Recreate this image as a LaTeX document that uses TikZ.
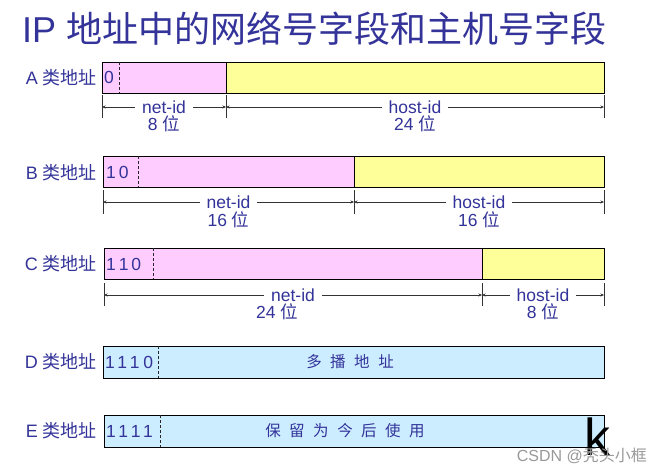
\documentclass[tikz,border=0pt]{standalone}
\usepackage{fontspec}
\setmainfont{Liberation Sans}
\newfontfamily\cjk{Noto Sans CJK SC}
\newfontfamily\bitfont[LetterSpace=22]{Liberation Sans}
\usetikzlibrary{arrows.meta}
\definecolor{txt}{RGB}{51,51,153}
\definecolor{pinkf}{RGB}{255,204,255}
\definecolor{yellowf}{RGB}{255,255,153}
\definecolor{bluef}{RGB}{204,236,255}
\newcommand\cgap{\hskip 8.5pt}
\tikzset{
  rowlbl/.style={text=txt, inner sep=0pt, anchor=east, font=\fontsize{18}{18}\selectfont},
  field/.style={draw=black, line width=1.1pt, anchor=north west, inner sep=0pt, minimum height=31pt},
  sep/.style={draw=black!85, dash pattern=on 3pt off 2pt, line width=1pt},
  tick/.style={draw=black!80, line width=1pt},
  dimarrow/.style={draw=black!80, line width=0.9pt, {Stealth[length=3.5pt,width=3pt]}-{Stealth[length=3.5pt,width=3pt]}},
  idlbl/.style={text=txt, fill=white, inner xsep=7pt, inner ysep=1pt, font=\fontsize{17.5}{17.5}\selectfont},
  bitslbl/.style={text=txt, inner sep=0pt, font=\fontsize{17.5}{17.5}\selectfont},
  bits/.style={text=txt, inner sep=0pt, anchor=west, font=\bitfont\fontsize{17.5}{17.5}\selectfont},
  wide/.style={text=txt, inner sep=0pt, font=\cjk\fontsize{15.5}{15.5}\selectfont}
}
\begin{document}
\begin{tikzpicture}[x=1pt,y=-1pt]
\path[use as bounding box, fill=white] (0,0) rectangle (661,475);

% title
\node[anchor=west, text=txt, inner sep=0pt, font=\fontsize{36}{36}\selectfont] (title) at (22,29) {IP {\cjk 地址中的网络号字段和主机号字段}};

% ---------- A ----------
\node[rowlbl] (Albl) at (97,77.5) {A {\cjk 类地址}};
\node[field, fill=pinkf, minimum width=124pt] (Anet) at (102,62) {};
\node[field, fill=yellowf, minimum width=378pt] (Ahost) at (226,62) {};
\node[bits] (Abits) at (104,77.5) {0};
\coordinate (Ad1) at (119,62); \coordinate (Ad2) at (119,93);
\draw[sep] (Ad1) -- (Ad2);
\coordinate (A1t) at (102,95);  \coordinate (A1b) at (102,118); \coordinate (A1m) at (102,107);
\coordinate (A2t) at (226,95);  \coordinate (A2b) at (226,118); \coordinate (A2m) at (226,107);
\coordinate (A3t) at (604,95);  \coordinate (A3b) at (604,118); \coordinate (A3m) at (604,107);
\draw[tick] (A1t) -- (A1b); \draw[tick] (A2t) -- (A2b); \draw[tick] (A3t) -- (A3b);
\draw[dimarrow] (A1m) -- node[idlbl] (Anetid) {net-id} (A2m);
\draw[dimarrow] (A2m) -- node[idlbl] (Ahostid) {host-id} (A3m);
\node[bitslbl] (Anetn) at (164,124) {8 {\cjk 位}};
\node[bitslbl] (Ahostn) at (415,124) {24 {\cjk 位}};

% ---------- B ----------
\node[rowlbl] (Blbl) at (97,172.5) {B {\cjk 类地址}};
\node[field, fill=pinkf, minimum width=251pt] (Bnet) at (103,156) {};
\node[field, fill=yellowf, minimum width=250pt] (Bhost) at (354,156) {};
\node[bits] (Bbits) at (106,172.5) {1\,0};
\coordinate (Bd1) at (138,156); \coordinate (Bd2) at (138,187);
\draw[sep] (Bd1) -- (Bd2);
\coordinate (B1t) at (103,190);  \coordinate (B1b) at (103,214); \coordinate (B1m) at (103,202);
\coordinate (B2t) at (354,190);  \coordinate (B2b) at (354,214); \coordinate (B2m) at (354,202);
\coordinate (B3t) at (604,190);  \coordinate (B3b) at (604,214); \coordinate (B3m) at (604,202);
\draw[tick] (B1t) -- (B1b); \draw[tick] (B2t) -- (B2b); \draw[tick] (B3t) -- (B3b);
\draw[dimarrow] (B1m) -- node[idlbl] (Bnetid) {net-id} (B2m);
\draw[dimarrow] (B2m) -- node[idlbl] (Bhostid) {host-id} (B3m);
\node[bitslbl] (Bnetn) at (228.5,220) {16 {\cjk 位}};
\node[bitslbl] (Bhostn) at (479,220) {16 {\cjk 位}};

% ---------- C ----------
\node[rowlbl] (Clbl) at (97,264) {C {\cjk 类地址}};
\node[field, fill=pinkf, minimum width=378pt] (Cnet) at (104,248) {};
\node[field, fill=yellowf, minimum width=122pt] (Chost) at (482,248) {};
\node[bits] (Cbits) at (106,264) {1\,1\,0};
\coordinate (Cd1) at (153,248); \coordinate (Cd2) at (153,279);
\draw[sep] (Cd1) -- (Cd2);
\coordinate (C1t) at (104,283);  \coordinate (C1b) at (104,306); \coordinate (C1m) at (104,295);
\coordinate (C2t) at (482,283);  \coordinate (C2b) at (482,306); \coordinate (C2m) at (482,295);
\coordinate (C3t) at (604,283);  \coordinate (C3b) at (604,306); \coordinate (C3m) at (604,295);
\draw[tick] (C1t) -- (C1b); \draw[tick] (C2t) -- (C2b); \draw[tick] (C3t) -- (C3b);
\draw[dimarrow] (C1m) -- node[idlbl] (Cnetid) {net-id} (C2m);
\draw[dimarrow] (C2m) -- node[idlbl] (Chostid) {host-id} (C3m);
\node[bitslbl] (Cnetn) at (277,312) {24 {\cjk 位}};
\node[bitslbl] (Chostn) at (543,312) {8 {\cjk 位}};

% ---------- D ----------
\node[rowlbl] (Dlbl) at (97,362) {D {\cjk 类地址}};
\node[field, fill=bluef, minimum width=501pt, minimum height=32pt] (Dall) at (103,346) {};
\node[bits] (Dbits) at (105,362) {1110};
\coordinate (Dd1) at (158,346); \coordinate (Dd2) at (158,378);
\draw[sep] (Dd1) -- (Dd2);
\node[wide] (Dtxt) at (350,362) {多\cgap 播\cgap 地\cgap 址};

% ---------- E ----------
\node[rowlbl] (Elbl) at (97,431) {E {\cjk 类地址}};
\node[field, fill=bluef, minimum width=500pt, minimum height=32pt] (Eall) at (104,415) {};
\node[bits] (Ebits) at (106,431) {1111};
\coordinate (Ed1) at (160,415); \coordinate (Ed2) at (160,447);
\draw[sep] (Ed1) -- (Ed2);
\node[wide] (Etxt) at (345,431) {保\cgap 留\cgap 为\cgap 今\cgap 后\cgap 使\cgap 用};

% overlays seen in the picture
\node[inner sep=0pt, font=\fontsize{52}{52}\selectfont] (kk) at (597,437) {k};
\node[anchor=east, text=black!40, inner sep=0pt, font=\fontsize{16}{16}\selectfont] (wm) at (647,456) {CSDN @{\cjk 秃头小框}};
\end{tikzpicture}
\end{document}
